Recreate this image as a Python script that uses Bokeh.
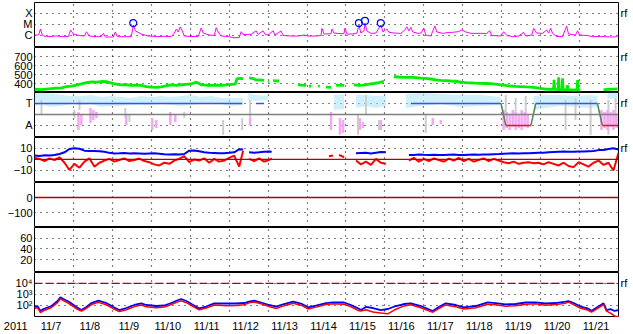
import numpy as np
import pandas as pd
from bokeh.plotting import figure
from bokeh.layouts import column
from bokeh.models import Range1d, FixedTicker, LinearAxis, Span
from bokeh.core.properties import value
from bokeh.embed import file_html
from bokeh.resources import INLINE

NaN = float("nan")
START = "2011-11-07 00:00"
N_DAYS = 15
day_labels = ["11/7", "11/8", "11/9", "11/10", "11/11", "11/12", "11/13", "11/14",
              "11/15", "11/16", "11/17", "11/18", "11/19", "11/20", "11/21"]
year_label = "2011"

# ---- Panel 1: X-ray flux, in units of 1e-6 W/m2 (C1 = 1, M1 = 10, X1 = 100); time in hours from 11/7 00:00
xray_h = [0, 2.5, 3.7, 4.9, 7.4, 11.7, 13.5, 16.6, 20.9, 22.2, 24, 27.7, 30.8, 32, 33.8, 38.2, 41.2, 42.5, 43.7, 48.6,
          49.8, 51.1, 56.6, 59.7, 60.9, 62.2, 65.8, 70.2, 75.1, 80, 84.3, 86.2, 87.4, 88.6, 89.8, 91.1, 92.3, 96.6,
          100.9, 102.8, 104, 107.7, 110.8, 112, 113.2, 115.1, 119.4, 122.5, 126.2, 127.4, 128.6, 133.5, 136.6, 137.8,
          140.9, 142.2, 144, 147.1, 148.3, 152, 153.2, 158.2, 162.5, 166.2, 168.6, 173.5, 176.6, 177.2, 178.5, 182.8,
          183.4, 184.6, 188.9, 190.8, 191.4, 192.6, 196.3, 198.8, 200, 201.2, 203.1, 203.7, 204.9, 207.4, 210.5, 213.5,
          214.8, 217.2, 218.5, 221.5, 225.8, 228.3, 229.5, 230.8, 232, 233.2, 236.3, 238.2, 240, 241.2, 244.3, 246.8,
          248, 251.7, 255.4, 258.5, 261.5, 263.4, 265.8, 268.9, 275.1, 278.8, 280.6, 281.8, 287.4, 289.2, 291.1, 294.8,
          298.5, 301.5, 302.8, 306.5, 307.7, 309.5, 313.2, 315.7, 316.9, 318.2, 319.4, 321.8, 325.5, 328, 329.2, 333.5,
          334.8, 336, 340.9, 344, 348.9, 352, 356.3, 359.4]
xray_c = [1.06, 1.06, 3.7, 0.96, 0.75, 0.81, 0.9, 0.75, 0.78, 3.0, 1.3, 0.96, 0.86, 2.1, 0.86, 0.75, 0.78, 1.5, 0.7, 0.7,
          2.0, 0.75, 0.75, 0.75, 8.6, 2.5, 1.3, 0.86, 0.78, 0.81, 0.78, 1.6, 3.7, 2.0, 5.7, 2.5, 0.86, 0.78,
          0.78, 4.6, 1.6, 1.06, 0.96, 4.9, 2.0, 0.86, 0.78, 0.6, 0.63, 2.1, 1.18, 1.23, 2.5, 1.23,
          2.5, 1.18, 1.06, 2.6, 1.06, 2.5, 0.96, 0.86, 0.86, 1.06, 0.86, 0.86, 0.96, 4.3, 1.3, 1.4,
          3.7, 1.6, 1.4, 1.46, 4.3, 1.3, 1.3, 1.6, 8.6, 1.6, 2.5, 12.3, 2.5, 1.5, 1.6, 8.6,
          2.0, 3.7, 1.9, 1.6, 1.5, 3.0, 6.0, 2.5, 5.3, 2.0, 1.5, 1.6, 4.3, 1.06, 0.86, 7.0,
          2.0, 1.5, 1.8, 1.9, 2.2, 3.0, 2.0, 1.5, 1.5, 1.46, 2.6, 0.96, 0.86, 2.1, 0.96, 0.75,
          0.86, 1.9, 0.86, 1.06, 4.3, 1.6, 1.5, 3.0, 1.6, 4.3, 1.46, 0.78, 0.75, 7.0, 1.3, 1.06,
          2.6, 1.06, 0.96, 0.75, 0.78, 0.75, 0.7, 0.75]
flare_h = [60.9, 200.0, 203.7, 213.5]
flare_c = [13, 13, 20, 13]
xray_ticks = [1, 10, 100]
xray_labels = ["C", "M", "X"]

# ---- Panel 2: solar wind speed (km/s)
speed_h = [0, 4.3, 8.6, 12.3, 16.6, 19.7, 22.8, 25.8, 28.9, 32, 35.1, 38.2, 41.2, 44.3, 47.4, 50.5, 53.5, 56.6, 59.7,
           62.8, 65.8, 68.9, 72, 75.1, 78.2, 81.2, 84.3, 87.4, 90.5, 93.5, 96.6, 99.7, 100.9, 102.8, 105.8, 108.9, 112,
           115.1, 118.2, 121.2, 123.7, 124.9, 127.4, 128.6, 130.5, 132.3, 134.8, 136.6, 139.8, 141.5, 143, 144, 144.6,
           145.8, 147.1, 148.9, 150.8, 156, 162.5, 164.9, 167.4, 168.3, 169.2, 170.5, 173, 174.8, 175.9, 177.5, 179.7,
           182.8, 184.5, 185.8, 190.8, 194, 196.9, 200, 203.1, 206.2, 209.2, 212.3, 215.4, 218.5, 221.5, 224.6, 228.9,
           232, 235.1, 238.2, 241.2, 244.3, 247.4, 250.5, 253.5, 256.6, 259.7, 262.8, 265.8, 268.9, 271.9, 275.1, 278.2,
           281.2, 284.3, 287.4, 290.5, 293.5, 296.6, 299.7, 302.8, 305.8, 308.9, 312, 315.1, 318.2, 320, 320.3, 320.6,
           322.8, 323.1, 323.4, 325.2, 325.5, 325.8, 328.3, 328.6, 328.9, 331.7, 334.5, 334.8, 335.1, 336.6, 343, 350.8,
           353.8, 356.9, 359.4]
speed_v = [336, 332, 340, 347, 352, 365, 372, 383, 395, 410, 418, 415, 422, 420, 405, 392, 385, 388, 380,
           383, 378, 365, 360, 358, 362, 375, 385, 380, 386, 390, 395, 415, 405, 385, 382, 378, 383,
           380, 385, 390, 392, 455, 458, 455, NaN, 462, 455, 440, 438, 435, NaN, 420, 418,
           NaN, 432, 430, 428, NaN, 385, 382, 380, NaN, 372, 370, NaN, 372, 370, NaN, 360,
           356, NaN, 383, 380, NaN, 385, 380, 383, 392, 400, 410, 425, NaN, 475, 472, 468,
           470, 465, 460, 457, 450, 440, 435, 432, 428, 425, 415, 410, 408, 405, 402, 400,
           398, 392, 385, 378, 372, 368, 365, 362, 360, 355, 345, 338, 336, 334, 440, 334,
           332, 469, 332, 330, 458, 330, 330, 383, 330, 328, 328, 439, 328, 326, NaN, 330,
           336, 338, 340]
speed_ticks = [400, 500, 600, 700]

# ---- Panel 3: T / A state indicator (T = 3, A = 1) and scatter clouds
ta_ticks = [1, 3]
ta_labels = ["A", "T"]
t_start = [0, 136.6, 232, 309]
t_end = [128, 141.5, 287.6, 347]
a_start = [290.5, 350]
a_end = [306, 360]
trans_h0 = [287.6, 306, 347]
trans_h1 = [290.5, 309, 350]
trans_v0 = [3, 1, 3]
trans_v1 = [1, 3, 1]
lb_h = [0, 4.3, 10.5, 16.6, 22.8, 28.9, 35.1, 41.2, 47.4, 53.5, 59.7, 65.8, 72, 78.2, 84.3, 90.5, 96.6, 102.8, 108.9,
        115.1, 121.2, 128.6, 130,
        131.7, 136.6, 144, 150,
        184.6, 190.8, 195,
        198.2, 204.3, 210.5, 216.6, 220,
        228.9, 238.2, 250.5, 262.8, 275.1, 287.4, 300,
        307.7, 315.1, 324.3, 333.5, 342.8, 347.1, 350,
        353.2, 359.4]
lb_hi = [3.95, 4.0, 3.86, 3.77, 3.68, 3.68, 3.77, 3.59, 3.68, 3.59, 3.5, 3.68, 3.59, 3.68, 3.59, 3.68, 3.77, 3.59, 3.68,
         3.5, 3.5, 3.5, NaN,
         3.95, 3.77, 3.68, NaN,
         3.77, 3.86, NaN,
         3.77, 3.77, 3.68, 3.68, NaN,
         3.86, 3.95, 3.86, 3.77, 3.77, 3.59, NaN,
         3.68, 3.77, 3.77, 3.68, 3.77, 3.68, NaN,
         4.0, 4.0]
lb_lo = [2.77, 2.86, 2.68, 2.77, 2.95, 2.86, 2.95, 2.68, 2.77, 2.77, 2.86, 2.86, 2.86, 2.95, 2.86, 2.77, 2.86, 2.95, 2.95,
         2.95, 2.77, 2.86, NaN,
         3.32, 3.23, 3.32, NaN,
         2.41, 2.5, NaN,
         2.59, 2.77, 2.59, 2.77, NaN,
         2.59, 2.77, 2.95, 2.68, 2.77, 2.86, NaN,
         2.41, 2.59, 2.77, 2.68, 2.59, 2.68, NaN,
         3.41, 3.5]
pink_h = [27.1, 28.9, 34.5, 36.3, 38.2, 56.6, 72.6, 75.1, 83.7, 86.8, 132.9, 182.8, 188.3, 190.2, 200.6, 202.5, 213.5,
          245.5, 250.5, 289.2, 291.1, 292.9, 294.8, 296.6, 298.5, 300.3, 302.2, 304, 349.5, 351.4, 353.2, 355.1,
          356.9, 358.8]
pink_hi = [2.23, 1.95, 2.59, 2.41, 2.23, 1.95, 1.68, 1.5, 2.23, 1.95, 1.68, 2.23, 1.68, 1.5, 1.68, 1.32, 1.5,
           1.68, 1.5, 2.41, 2.23, 2.05, 2.41, 2.23, 2.05, 2.41, 2.23, 2.05, 2.41, 2.23, 2.41, 2.23, 2.41, 2.05]
pink_lo = [0.59, 1.05, 1.23, 1.5, 1.68, 1.05, 0.59, 0.77, 1.05, 1.32, 1.05, 0.59, 0.14, 0.32, 0.59, 0.77, 0.59,
           1.05, 1.14, 0.59, 0.77, 0.59, 0.86, 0.59, 0.77, 0.59, 0.86, 0.77, 0.59, 0.77, 0.59, 0.86, 0.59, 0.77]
gray_h = [4.3, 24.6, 27.7, 56, 58.5, 92.3, 116.3, 128, 132.9, 199.4, 204.3, 212.3, 241.2, 290.5, 296.6, 302.8,
          327.4, 333.5, 342.8, 353.8, 358.2]
gray_hi = [3.32, 2.41, 3.32, 2.59, 1.95, 2.23, 1.5, 1.68, 3.32, 1.95, 3.77, 1.5, 1.95, 3.77, 3.5, 3.68,
           3.32, 3.5, 3.32, 3.32, 3.5]
gray_lo = [1.95, 1.68, 2.41, 1.68, 1.32, 1.68, 0.14, 0.59, 1.5, 0.14, 1.95, 0.59, 0.32, 1.95, 2.23, 1.95,
           0.59, 1.5, 0.14, 0.14, 1.05]

# ---- Panel 4: magnetic field Bt (blue) and Bz (red), nT
b_h = [0, 3.1, 6.2, 9.2, 12.3, 15.4, 18.5, 21.5, 24.6, 27.7, 30.8, 33.8, 36.9, 40, 43.1, 46.2, 49.2, 52.3, 55.4, 58.5,
       61.5, 64.6, 67.7, 70.8, 73.8, 76.9, 80, 83.1, 86.2, 89.2, 92.3, 95.4, 98.5, 101.5, 104.6, 107.7, 110.8, 113.8,
       116.9, 120, 123.1, 126.2, 128.6, 130,
       132.3, 135.4, 138.5, 141.5, 144.6, 146.2, 150,
       181.5, 184, 186, 187.7, 189.5, 190.8, 195,
       198.2, 201.2, 204.3, 207.4, 210.5, 213.5, 216.6, 222,
       230.8, 233.8, 236.9, 240, 243.1, 246.2, 249.2, 252.3, 255.4, 258.5, 261.5, 264.6, 267.7, 270.8, 273.8, 276.9,
       280, 283.1, 286.2, 289.2, 292.3, 295.4, 298.5, 301.5, 304.6, 307.7, 310.8, 313.8, 316.9, 320, 323.1, 326.2,
       329.2, 332.3, 335.4, 338.5, 341.5, 344.6, 347.7, 350.8, 353.8, 356.9, 360]
bt_v = [3.5, 3.2, 3.8, 3.5, 4.0, 5.0, 6.5, 9.5, 10.2, 9.8, 8.0, 7.6, 7.8, 7.5, 7.0, 6.0, 5.5, 5.6, 5.8, 5.4,
        5.6, 5.5, 5.3, 5.5, 5.6, 5.2, 4.8, 4.6, 4.7, 4.5, 5.0, 8.0, 8.2, 7.5, 6.5, 6.0, 5.8, 5.6,
        5.7, 6.0, 6.5, 9.3, 9.0, NaN,
        6.5, 6.2, 6.5, 7.0, 7.2, 7.0, NaN,
        NaN, NaN, NaN, NaN, NaN, NaN, NaN,
        5.6, 5.8, 6.0, 5.5, 6.2, 6.8, 6.5, NaN,
        4.1, 4.0, 4.5, 4.2, 4.0, 4.3, 4.1, 4.0, 4.2, 4.4, 4.1, 4.0, 4.3, 4.5, 4.2, 4.4,
        4.6, 4.8, 5.0, 5.3, 5.5, 5.6, 5.5, 5.7, 5.6, 5.8, 6.0, 6.2, 6.5, 6.8, 7.0, 7.2,
        7.0, 7.1, 7.3, 7.2, 7.5, 7.8, 8.5, 8.7, 9.5, 10.2, 9.0]
bz_v = [1.5, 0.5, -1.5, 1.0, -0.5, 2.0, -3.0, -9.6, -4.0, -7.5, -2.0, 1.0, -6.5, -3.0, -1.0, 0.5, -2.0, -0.5, 1.0, -1.5,
        -0.5, 0.8, -1.5, -2.5, -4.5, -5.5, -3.0, -4.0, -1.0, 0.5, 3.0, -2.5, 0.0, -1.0, 1.0, -3.0, 0.5, -2.0,
        -1.0, 1.5, 3.5, -6.5, 8.0, NaN,
        0.5, -1.5, 1.0, -2.0, -0.5, 1.0, NaN,
        3.0, 3.5, NaN, 4.0, 3.0, 2.0, NaN,
        -1.0, -4.5, -2.0, -5.0, 0.5, -3.0, -4.0, NaN,
        -1.0, 1.5, -2.0, 0.5, -1.5, 1.0, -0.5, -2.0, 0.8, -1.0, 1.5, -1.5, 0.5, -2.0, -0.5, 1.0,
        -1.5, 0.5, -1.0, -2.5, -3.5, -2.0, -4.0, -3.0, -2.5, -3.5, -3.0, -4.5, -2.5, -4.0, -5.5, -3.0,
        -6.0, -7.0, -2.5, -4.5, -6.5, -3.0, -1.0, -5.0, -3.0, -10.0, 6.0]
b_ticks = [-10, 0, 10]

# ---- Panel 5 and 6: empty panels
p5_ticks = [-100, 0]
p6_ticks = [20, 40, 60]

# ---- Panel 7: two flux curves (log scale)
cr_h = [0, 1.8, 3.7, 5.5, 10.5, 14.2, 16, 17.8, 21.5, 25.8, 28.9, 32, 35.1, 39.4, 44.3, 48.6, 52.3, 56.6, 61.5, 65.8,
        68.9, 75.1, 80, 84.3, 88.6, 90.5, 94.2, 97.8, 101.5, 105.8, 110.8, 118.2, 124.3, 129.2, 132.3, 135.4, 139.7,
        144.6, 148.9, 153.8, 159.4, 164.3, 168.6, 173.5, 179.7, 184, 190.8, 195.1, 199.4, 201.2, 204.3, 208.6, 213.5,
        217.8, 222.8, 227.7, 232, 238.2, 245.5, 249.2, 253.5, 259.7, 264.6, 272, 279.4, 284.3, 290.5, 296.6, 302.8,
        308.9, 315.1, 321.2, 327.4, 329.2, 332.3, 336.6, 340.9, 343.4, 347.1, 350.8, 352.6, 355.1, 357.5, 360]
cr_blue = [76, 88, 31, 47, 88, 251, 545, 382, 204, 72, 38, 72, 165, 267, 165, 72, 38, 58, 109, 155,
           109, 88, 98, 165, 310, 382, 226, 109, 54, 79, 155, 149, 149, 165, 226, 267, 184, 109, 76, 134,
           217, 149, 67, 98, 165, 191, 184, 109, 54, 38, 72, 58, 38, 47, 88, 134, 155, 88, 31, 72,
           155, 109, 67, 88, 191, 165, 126, 134, 184, 191, 149, 165, 217, 251, 165, 79, 54, 33, 72, 155,
           38, 47, 31, 38]
cr_red = [55, 62, 22, 33, 65, 180, 400, 270, 140, 50, 31, 55, 120, 190, 115, 50, 27, 40, 78, 110,
          75, 62, 70, 120, 220, 260, 160, 78, 40, 58, 110, 95, 100, 115, 170, 200, 140, 80, 52, 95,
          160, 105, 48, 70, 120, 140, 130, 75, 35, 30, 40, 25, 20, 17, 45, 90, 115, 62, 24, 52,
          110, 75, 48, 62, 130, 115, 85, 92, 130, 140, 105, 118, 160, 200, 120, 55, 38, 25, 55, 120,
          30, 20, 11, 9]
cr_ticks = [100, 1000, 10000]
cr_labels = ["10²", "10³", "10⁴"]
cr_threshold = 10000

# ------------------------------------------------------------------ layout / helpers
T0 = pd.Timestamp(START)
W = 633
LB, RB = 33, 15
FONT = "Liberation Sans"
FS = "11px"
DOT = "1 5"


def tt(hours):
    return T0 + pd.to_timedelta(np.asarray(hours, dtype=float), unit="h")


def ms(ts):
    return int(ts.value // 10**6)


midnight_ms = [ms(T0 + pd.Timedelta(days=d)) for d in range(1, N_DAYS)]
noon_times = [T0 + pd.Timedelta(days=d, hours=12) for d in range(N_DAYS)]

xr = Range1d(start=T0, end=T0 + pd.Timedelta(days=N_DAYS))


def style_axis(ax, standoff=2):
    ax.axis_line_color = None
    ax.major_tick_line_color = None
    ax.minor_tick_line_color = None
    ax.major_tick_out = 0
    ax.major_tick_in = 0
    ax.major_label_standoff = standoff
    ax.major_label_text_font = FONT
    ax.major_label_text_font_size = FS
    ax.major_label_text_color = "black"


def panel(height, yrange, yticks, ylabels=None, log=False, rf=None, top=0):
    p = figure(width=W, height=height, x_range=xr, y_range=yrange, x_axis_type="datetime",
               y_axis_type="log" if log else "linear", x_axis_location=None,
               output_backend="svg", toolbar_location=None,
               min_border_left=LB, min_border_right=RB, min_border_top=top, min_border_bottom=0,
               background_fill_color="white", border_fill_color="white")
    p.outline_line_color = "black"
    p.outline_line_width = 1
    p.outline_line_alpha = 1.0
    p.xgrid.ticker = FixedTicker(ticks=midnight_ms)
    p.ygrid.ticker = FixedTicker(ticks=yticks)
    for g in (p.xgrid, p.ygrid):
        g.grid_line_color = "black"
        g.grid_line_dash = DOT
        g.grid_line_width = 1.2
        g.grid_line_alpha = 1.0
    ax = p.yaxis[0]
    ax.ticker = FixedTicker(ticks=yticks)
    if ylabels is not None:
        ax.major_label_overrides = {k: v for k, v in zip(yticks, ylabels)}
    style_axis(ax)
    if rf is not None:
        ra = LinearAxis(ticker=FixedTicker(ticks=[rf]), major_label_overrides={rf: "rf"})
        style_axis(ra)
        p.add_layout(ra, "right")
    return p


def split_runs(h, a, b):
    runs, cur = [], ([], [], [])
    for hi_, ai, bi in zip(h, a, b):
        if np.isnan(ai) or np.isnan(bi):
            if cur[0]:
                runs.append(cur)
            cur = ([], [], [])
        else:
            cur[0].append(hi_); cur[1].append(ai); cur[2].append(bi)
    if cur[0]:
        runs.append(cur)
    return runs


# ---- Panel 1
p1 = panel(47, Range1d(0.078, 950), xray_ticks, xray_labels, log=True, rf=100, top=2)
p1.line(tt(xray_h), xray_c, line_color="#ff00ff", line_width=1)
p1.scatter(tt(flare_h), flare_c, marker="circle", size=7, fill_color=None, line_color="#0000ff", line_width=1.2)

# ---- Panel 2
p2 = panel(45, Range1d(300, 800), speed_ticks, rf=700)
p2.line(tt(speed_h), speed_v, line_color="#00ee00", line_width=2.8)

# ---- Panel 3
p3 = panel(45, Range1d(-0.1, 4.0), ta_ticks, ta_labels, rf=3)
for hh, lo, hi in split_runs(lb_h, lb_lo, lb_hi):
    p3.varea(x=tt(hh), y1=lo, y2=hi, fill_color="#a8e4f6", fill_alpha=0.55)
p3.segment(x0=tt(gray_h), y0=gray_lo, x1=tt(gray_h), y1=gray_hi, line_color="#cccccc", line_width=2)
p3.segment(x0=tt(pink_h), y0=pink_lo, x1=tt(pink_h), y1=pink_hi, line_color="#f4a8f4", line_width=2.5)
p3.add_layout(Span(location=2, dimension="width", line_color="#7f7f7f", line_width=1.5))
p3.segment(x0=tt(t_start), y0=[3] * len(t_start), x1=tt(t_end), y1=[3] * len(t_end),
           line_color="#4050e0", line_width=1.5)
p3.segment(x0=tt(a_start), y0=[1] * len(a_start), x1=tt(a_end), y1=[1] * len(a_end),
           line_color="#d02020", line_width=1.5)
p3.segment(x0=tt(trans_h0), y0=trans_v0, x1=tt(trans_h1), y1=trans_v1, line_color="#4a8a4a", line_width=1.5)

# ---- Panel 4
p4 = panel(45, Range1d(-21, 20), b_ticks, rf=10)
p4.add_layout(Span(location=0, dimension="width", line_color="#b00000", line_width=1.3))
p4.line(tt(b_h), bt_v, line_color="#0000ff", line_width=2)
p4.line(tt(b_h), bz_v, line_color="#ff0000", line_width=2)

# ---- Panel 5
p5 = panel(45, Range1d(-200, 100), p5_ticks)
p5.add_layout(Span(location=0, dimension="width", line_color="#b00000", line_width=1.3))

# ---- Panel 6
p6 = panel(45, Range1d(-4, 80), p6_ticks)

# ---- Panel 7
p7 = panel(45, Range1d(7.9, 100000), cr_ticks, cr_labels, log=True, rf=10000)
p7.add_layout(Span(location=cr_threshold, dimension="width", line_color="#b00000", line_width=1.3,
                   line_dash="8 3"))
p7.line(tt(cr_h), cr_blue, line_color="#0000ff", line_width=1.8)
p7.line(tt(cr_h), cr_red, line_color="#ff0000", line_width=1.5)

# ---- Time label strip: day labels at noon of each day, year as the strip's left label
ps = figure(width=W, height=17, x_range=xr, y_range=Range1d(0, 1), x_axis_type="datetime",
            x_axis_location=None, output_backend="svg", toolbar_location=None,
            min_border_left=LB, min_border_right=RB, min_border_top=0, min_border_bottom=0,
            background_fill_color="white", border_fill_color="white")
ps.outline_line_color = None
ps.grid.visible = False
ya = ps.yaxis[0]
ya.ticker = FixedTicker(ticks=[0.5])
ya.major_label_overrides = {0.5: year_label}
style_axis(ya, standoff=7)
ps.text(x=noon_times, y=[0.5] * N_DAYS, text=day_labels, text_align="center", text_baseline="middle",
        x_offset=-3, text_font=value(FONT), text_font_size=value(FS), text_color="black")

layout = column(p1, p2, p3, p4, p5, p6, p7, ps, spacing=0)
open("out.html", "w").write(file_html(layout, INLINE))
